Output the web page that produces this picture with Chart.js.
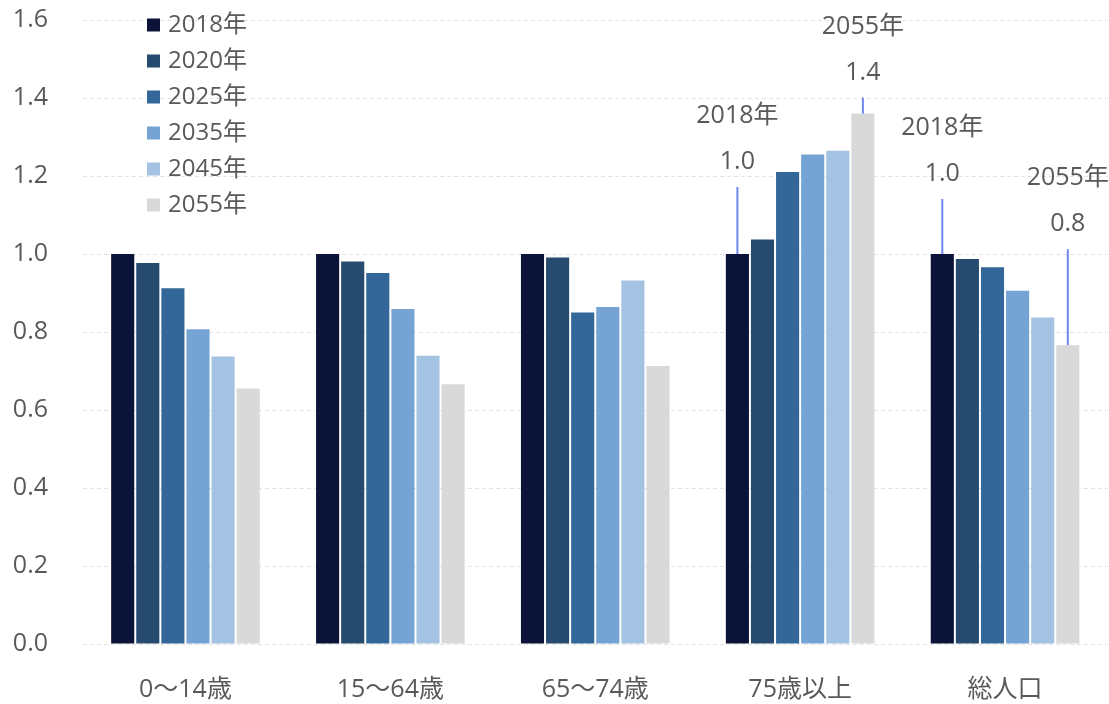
<!DOCTYPE html>
<html lang="ja">
<head>
<meta charset="utf-8">
<title>年齢階級別人口の推移（2018年=1.0）</title>
<script src="https://cdn.jsdelivr.net/npm/chart.js@4/dist/chart.umd.min.js"></script>
<style>
  html, body { margin: 0; padding: 0; background: #fff; }
  #wrap { width: 1109px; height: 704px; position: relative; }
</style>
</head>
<body>
<div id="wrap"><canvas id="popChart"></canvas></div>
<script>
// 2018年を1.0とした指数
const categories = ['0〜14歳', '15〜64歳', '65〜74歳', '75歳以上', '総人口'];
const years = ['2018年', '2020年', '2025年', '2035年', '2045年', '2055年'];

const idx2018 = [1.000, 1.000, 1.000, 1.000, 1.000];
const idx2020 = [0.977, 0.981, 0.991, 1.037, 0.987];
const idx2025 = [0.912, 0.951, 0.850, 1.210, 0.966];
const idx2035 = [0.807, 0.859, 0.864, 1.255, 0.906];
const idx2045 = [0.737, 0.739, 0.932, 1.265, 0.837];
const idx2055 = [0.655, 0.666, 0.713, 1.360, 0.766];

const yTicks = [0, 0.2, 0.4, 0.6, 0.8, 1.0, 1.2, 1.4, 1.6];

const series = [idx2018, idx2020, idx2025, idx2035, idx2045, idx2055];
const colors = ['#0b1438', '#264b6f', '#336699', '#75a3d3', '#a4c2e2', '#d9d9d9'];

// 吹き出し（カテゴリ, 系列, 引き出し線の長さpx）
const callouts = [
  { cat: '75歳以上', year: '2018年', lineLen: 67 },
  { cat: '75歳以上', year: '2055年', lineLen: 16 },
  { cat: '総人口', year: '2018年', lineLen: 55 },
  { cat: '総人口', year: '2055年', lineLen: 96 }
];

const FONT = '"Open Sans", "Noto Sans CJK JP", sans-serif';
const TEXT = '#595959';

const calloutPlugin = {
  id: 'callouts',
  afterDatasetsDraw(chart) {
    const ctx = chart.ctx;
    ctx.save();
    callouts.forEach(c => {
      const ci = categories.indexOf(c.cat);
      const di = years.indexOf(c.year);
      const bar = chart.getDatasetMeta(di).data[ci];
      const value = series[di][ci];
      const top = bar.y - c.lineLen;
      ctx.strokeStyle = '#7088ee';
      ctx.lineWidth = 2;
      ctx.beginPath();
      ctx.moveTo(bar.x, bar.y);
      ctx.lineTo(bar.x, top);
      ctx.stroke();
      ctx.fillStyle = TEXT;
      ctx.font = '25px ' + FONT;
      ctx.textAlign = 'center';
      ctx.textBaseline = 'middle';
      ctx.fillText(value.toFixed(1), bar.x, top - 25);
      ctx.fillText(c.year, bar.x, top - 71);
    });
    ctx.restore();
  }
};

// 凡例はプロット領域の左上に重ねて描く
const legendPlugin = {
  id: 'innerLegend',
  afterDraw(chart) {
    const ctx = chart.ctx;
    ctx.save();
    ctx.font = '24px ' + FONT;
    ctx.textBaseline = 'middle';
    ctx.textAlign = 'left';
    chart.data.datasets.forEach((ds, i) => {
      const cy = 25 + i * 36;
      ctx.fillStyle = ds.backgroundColor;
      ctx.fillRect(147, cy - 6.5, 13, 13);
      ctx.fillStyle = TEXT;
      ctx.fillText(ds.label, 168, cy);
    });
    ctx.restore();
  }
};

new Chart(document.getElementById('popChart'), {
  type: 'bar',
  data: {
    labels: categories,
    datasets: years.map((y, i) => ({
      label: y,
      data: series[i],
      backgroundColor: colors[i],
      borderWidth: 0,
      categoryPercentage: 0.735,
      barPercentage: 0.92
    }))
  },
  options: {
    responsive: true,
    maintainAspectRatio: false,
    animation: false,
    layout: { padding: { top: 20, right: 1.5, bottom: 0, left: 0 } },
    plugins: {
      legend: { display: false },
      tooltip: { enabled: false }
    },
    scales: {
      x: {
        grid: { display: false, drawTicks: false },
        border: { display: false },
        ticks: {
          color: TEXT,
          font: { family: FONT, size: 25 },
          padding: 31
        },
        afterFit(scale) { scale.height = 60; }
      },
      y: {
        min: 0,
        max: 1.6,
        afterBuildTicks(scale) {
          scale.ticks = yTicks.map(v => ({ value: v }));
        },
        grid: {
          color: '#e3e3e3',
          lineWidth: 1,
          drawTicks: false
        },
        border: { display: false, dash: [4, 3] },
        ticks: {
          color: TEXT,
          font: { family: FONT, size: 25 },
          padding: 35,
          callback: v => Number(v).toFixed(1)
        },
        afterFit(scale) {
          scale.width = 83;
          scale.paddingTop = 0;
          scale.paddingBottom = 0;
        }
      }
    }
  },
  plugins: [calloutPlugin, legendPlugin]
});
</script>
</body>
</html>
